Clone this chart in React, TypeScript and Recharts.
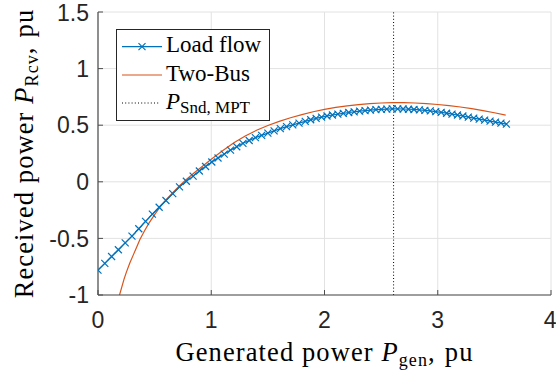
import React from 'react';
import { LineChart, Line, XAxis, YAxis, CartesianGrid, ReferenceLine, Legend } from 'recharts';

// ---- data ----
const loadFlowX = [
  0.0, 0.06, 0.12, 0.18, 0.24, 0.3, 0.36, 0.42, 0.48, 0.54, 0.6, 0.66, 0.72, 0.78,
  0.84, 0.895, 0.95, 1.005, 1.06, 1.115, 1.17, 1.225, 1.28, 1.335, 1.39, 1.445, 1.5,
  1.555, 1.61, 1.665, 1.72, 1.775, 1.83,
  1.878, 1.926, 1.974, 2.022, 2.07, 2.118, 2.166, 2.214, 2.262, 2.31, 2.358, 2.406,
  2.454, 2.502, 2.55, 2.598, 2.646, 2.694, 2.742, 2.79, 2.838, 2.886, 2.934, 2.982,
  3.03, 3.078, 3.126, 3.174, 3.222, 3.27, 3.318, 3.366, 3.414, 3.462, 3.51, 3.558, 3.606,
];
const loadFlowY = [
  -0.78, -0.72, -0.66, -0.6, -0.54, -0.48, -0.415, -0.35, -0.285, -0.225, -0.165, -0.105, -0.045, 0.005,
  0.05, 0.095, 0.135, 0.175, 0.21, 0.245, 0.28, 0.31, 0.34, 0.365, 0.39, 0.41, 0.43,
  0.45, 0.47, 0.487, 0.503, 0.518, 0.534,
  0.548, 0.56, 0.571, 0.581, 0.59, 0.598, 0.605, 0.612, 0.618, 0.624, 0.629, 0.633,
  0.637, 0.64, 0.642, 0.644, 0.644, 0.643, 0.641, 0.639, 0.635, 0.631, 0.626, 0.62,
  0.613, 0.606, 0.598, 0.59, 0.581, 0.572, 0.563, 0.554, 0.545, 0.536, 0.527, 0.518, 0.51,
];
const twoBusX = [
  0.19, 0.21, 0.23, 0.25, 0.28, 0.31, 0.34, 0.37, 0.41, 0.45, 0.5, 0.55, 0.6, 0.66, 0.72,
  0.78, 0.85, 0.92, 1.0, 1.1, 1.2, 1.3, 1.4, 1.5, 1.6, 1.7, 1.8, 1.9, 2.0, 2.1, 2.2,
  2.3, 2.4, 2.5, 2.6, 2.7, 2.8, 2.9, 3.0, 3.1, 3.2, 3.3, 3.4, 3.5, 3.6,
];
const twoBusY = [
  -1.0, -0.93, -0.86, -0.8, -0.72, -0.65, -0.58, -0.51, -0.435, -0.365, -0.29, -0.22, -0.16, -0.095, -0.035,
  0.02, 0.08, 0.135, 0.2, 0.275, 0.345, 0.405, 0.455, 0.497, 0.534, 0.566, 0.594, 0.619, 0.64, 0.657, 0.671,
  0.682, 0.69, 0.696, 0.699, 0.699, 0.696, 0.691, 0.683, 0.673, 0.661, 0.646, 0.629, 0.61, 0.589,
];
const mptX = 2.61;
const xTicks = [0, 1, 2, 3, 4];
const yTicks = [-1, -0.5, 0, 0.5, 1, 1.5];
const seriesNames = ['Load flow', 'Two-Bus'];
const xLabelText = 'Generated power ';
const yLabelText = 'Received power ';

const loadFlowData = loadFlowX.map((x, i) => ({ x, y: loadFlowY[i] }));
const twoBusData = twoBusX.map((x, i) => ({ x, y: twoBusY[i] }));

const BLUE = '#0072BD';
const ORANGE = '#D95319';
const AXIS = '#4d4d4d';
const TEXT = '#262626';
const SERIF = '"Liberation Serif", "Times New Roman", serif';
const SANS = '"Liberation Sans", Arial, sans-serif';

const CrossDot = (props: any) => {
  const { cx, cy, index } = props;
  if (cx == null || cy == null) return <g key={index} />;
  const s = 3.5;
  return (
    <path
      key={index}
      d={`M${cx - s},${cy - s}L${cx + s},${cy + s}M${cx - s},${cy + s}L${cx + s},${cy - s}`}
      stroke={BLUE}
      strokeWidth={1.2}
      fill="none"
    />
  );
};

const XLabel = (props: any) => {
  const vb = props.viewBox || { x: 98, y: 295, width: 453, height: 77 };
  const cx = vb.x + vb.width / 2;
  return (
    <text
      x={cx}
      y={vb.y + 66}
      textAnchor="middle"
      fill="#000"
      fontFamily={SERIF}
      style={{ fontFamily: SERIF, fontSize: 26.5, letterSpacing: 1.1 }}
    >
      <tspan>{xLabelText}</tspan>
      <tspan fontStyle="italic">P</tspan>
      <tspan fontSize={18} dy={5}>gen</tspan>
      <tspan dy={-5}>,</tspan>
      <tspan dx={9}>pu</tspan>
    </text>
  );
};

const YLabel = (props: any) => {
  const vb = props.viewBox || { x: 0, y: 12, width: 98, height: 283 };
  const cy = vb.y + vb.height / 2;
  const x = 33;
  return (
    <text
      x={x}
      y={cy}
      transform={`rotate(-90, ${x}, ${cy})`}
      textAnchor="middle"
      fill="#000"
      fontFamily={SERIF}
      style={{ fontFamily: SERIF, fontSize: 26.5, letterSpacing: 1.1 }}
    >
      <tspan>{yLabelText}</tspan>
      <tspan fontStyle="italic">P</tspan>
      <tspan fontSize={18} dy={5}>Rcv</tspan>
      <tspan dy={-5}>,</tspan>
      <tspan dx={9}>pu</tspan>
    </text>
  );
};

const rowText = (top: number): React.CSSProperties => ({
  position: 'absolute',
  left: 49,
  top,
  fontFamily: SERIF,
  fontSize: 23,
  lineHeight: '23px',
  color: '#000',
  whiteSpace: 'nowrap',
});

const LegendBox = () => (
  <div
    style={{
      position: 'relative',
      width: 154,
      height: 92,
      boxSizing: 'border-box',
      border: `1px solid ${TEXT}`,
      background: '#fff',
      fontFamily: SERIF,
    }}
  >
    <svg width={152} height={90} style={{ position: 'absolute', left: 0, top: 0, display: 'block' }}>
      <line x1={5} x2={45} y1={16.7} y2={16.7} stroke={BLUE} strokeWidth={1.2} />
      <path d="M21.5,13.2L28.5,20.2M21.5,20.2L28.5,13.2" stroke={BLUE} strokeWidth={1.2} />
      <line x1={5} x2={45} y1={45} y2={45} stroke={ORANGE} strokeWidth={1.2} />
      <line x1={5} x2={43} y1={73} y2={73} stroke="#000" strokeWidth={1} strokeDasharray="1 2.2" />
    </svg>
    <div style={rowText(2.7)}>{seriesNames[0]}</div>
    <div style={rowText(32.4)}>{seriesNames[1]}</div>
    <div style={rowText(59.7)}>
      <i>P</i>
      <span style={{ fontSize: 17, position: 'relative', top: 4 }}>Snd, MPT</span>
    </div>
  </div>
);

export default function App() {
  return (
    <div style={{ position: 'absolute', left: 0, top: 0, width: 556, height: 372, background: '#fff' }}>
      <LineChart width={556} height={372} margin={{ top: 12, right: 5, left: 0, bottom: 0 }}>
        <CartesianGrid stroke="#e2e2e2" strokeWidth={1} />
        <XAxis
          dataKey="x"
          type="number"
          domain={[0, 4]}
          ticks={xTicks}
          allowDataOverflow
          height={77}
          tickSize={-5}
          tickMargin={22}
          axisLine={{ stroke: AXIS, strokeWidth: 1.2 }}
          tickLine={{ stroke: AXIS }}
          tick={{ fill: TEXT, fontSize: 23, fontFamily: SANS }}
          label={<XLabel />}
        />
        <XAxis
          xAxisId="top"
          orientation="top"
          type="number"
          domain={[0, 4]}
          ticks={xTicks}
          allowDataOverflow
          height={0}
          tick={false}
          tickSize={-5}
          axisLine={{ stroke: AXIS, strokeWidth: 1.2 }}
          tickLine={{ stroke: AXIS }}
        />
        <YAxis
          type="number"
          domain={[-1, 1.5]}
          ticks={yTicks}
          allowDataOverflow
          width={98}
          tickSize={-5}
          tickMargin={14}
          axisLine={{ stroke: AXIS, strokeWidth: 1.2 }}
          tickLine={{ stroke: AXIS }}
          tick={{ fill: TEXT, fontSize: 23, fontFamily: SANS }}
          label={<YLabel />}
        />
        <YAxis
          yAxisId="right"
          orientation="right"
          type="number"
          domain={[-1, 1.5]}
          ticks={yTicks}
          allowDataOverflow
          width={0}
          tick={false}
          tickSize={-5}
          axisLine={{ stroke: AXIS, strokeWidth: 1.2 }}
          tickLine={{ stroke: AXIS }}
        />
        <ReferenceLine x={mptX} stroke="#000" strokeWidth={1} strokeDasharray="1 2.2" />
        <Line
          data={twoBusData}
          dataKey="y"
          name={seriesNames[1]}
          stroke={ORANGE}
          strokeWidth={1.2}
          dot={false}
          activeDot={false}
          isAnimationActive={false}
          type="linear"
        />
        <Line
          data={loadFlowData}
          dataKey="y"
          name={seriesNames[0]}
          stroke={BLUE}
          strokeWidth={1.2}
          dot={<CrossDot />}
          activeDot={false}
          isAnimationActive={false}
          type="linear"
        />
        <Legend
          layout="vertical"
          align="center"
          verticalAlign="middle"
          wrapperStyle={{ left: 116, top: 29, width: 154, height: 92 }}
          content={() => <LegendBox />}
        />
      </LineChart>
    </div>
  );
}
